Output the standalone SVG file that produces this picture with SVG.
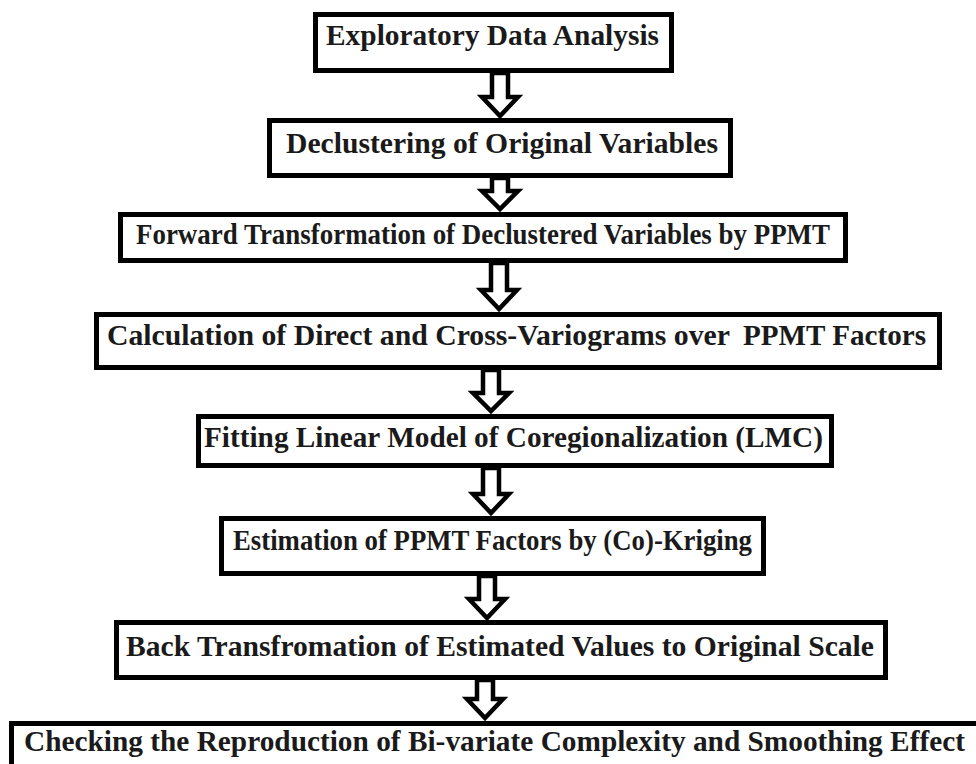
<svg xmlns="http://www.w3.org/2000/svg" width="976" height="764" viewBox="0 0 976 764">
<style>
.box{fill:#fff;stroke:#000;stroke-width:5}
.t{font-family:"Liberation Serif","Times New Roman",serif;font-weight:bold;font-size:29px;fill:#1a1a1a}
.arr{fill:#fff;stroke:#000;stroke-width:4.5;stroke-linejoin:miter}
</style>
<rect width="976" height="764" fill="#fff"/>
<g id="connectors">
<path class="arr" d="M492 73 L508 73 L508 97 L518 97 L500 116 L482 97 L492 97 Z"/>
<path class="arr" d="M492 178 L508 178 L508 191 L518 191 L500 209 L482 191 L492 191 Z"/>
<path class="arr" d="M491 263 L507 263 L507 290 L517 290 L499 309 L481 290 L491 290 Z"/>
<path class="arr" d="M483 370 L499 370 L499 393 L509 393 L491 411 L473 393 L483 393 Z"/>
<path class="arr" d="M483 468 L499 468 L499 494 L509 494 L491 513 L473 494 L483 494 Z"/>
<path class="arr" d="M479 576 L495 576 L495 599 L505 599 L487 618 L469 599 L479 599 Z"/>
<path class="arr" d="M477 680 L493 680 L493 699 L503 699 L485 718 L467 699 L477 699 Z"/>
</g>
<g id="n1"><rect class="box" x="315.5" y="14.5" width="356" height="56"/><text class="t" x="326" y="45" textLength="333" lengthAdjust="spacingAndGlyphs">Exploratory Data Analysis</text></g>
<g id="n2"><rect class="box" x="269.5" y="120.5" width="461" height="55"/><text class="t" x="286" y="153" textLength="432" lengthAdjust="spacingAndGlyphs">Declustering of Original Variables</text></g>
<g id="n3"><rect class="box" x="120.5" y="214.5" width="725" height="46"/><text class="t" x="136" y="244" textLength="694" lengthAdjust="spacingAndGlyphs">Forward Transformation of Declustered Variables by PPMT</text></g>
<g id="n4"><rect class="box" x="96.5" y="314.5" width="843" height="53"/><text class="t" x="107" y="345" textLength="623" lengthAdjust="spacingAndGlyphs">Calculation of Direct and Cross-Variograms over</text><text class="t" x="743" y="345" textLength="183" lengthAdjust="spacingAndGlyphs">PPMT Factors</text></g>
<g id="n5"><rect class="box" x="198.5" y="416.5" width="633" height="49"/><text class="t" x="204" y="447" textLength="619" lengthAdjust="spacingAndGlyphs">Fitting Linear Model of Coregionalization (LMC)</text></g>
<g id="n6"><rect class="box" x="221.5" y="518.5" width="542" height="55"/><text class="t" x="233" y="550" textLength="519" lengthAdjust="spacingAndGlyphs">Estimation of PPMT Factors by (Co)-Kriging</text></g>
<g id="n7"><rect class="box" x="116.5" y="622.5" width="769" height="55"/><text class="t" x="126" y="656" textLength="748" lengthAdjust="spacingAndGlyphs">Back Transfromation of Estimated Values to Original Scale</text></g>
<g id="n8"><rect class="box" x="11.5" y="723.5" width="1000" height="80"/><text class="t" x="24" y="751" textLength="941" lengthAdjust="spacingAndGlyphs">Checking the Reproduction of Bi-variate Complexity and Smoothing Effect</text></g>
</svg>
